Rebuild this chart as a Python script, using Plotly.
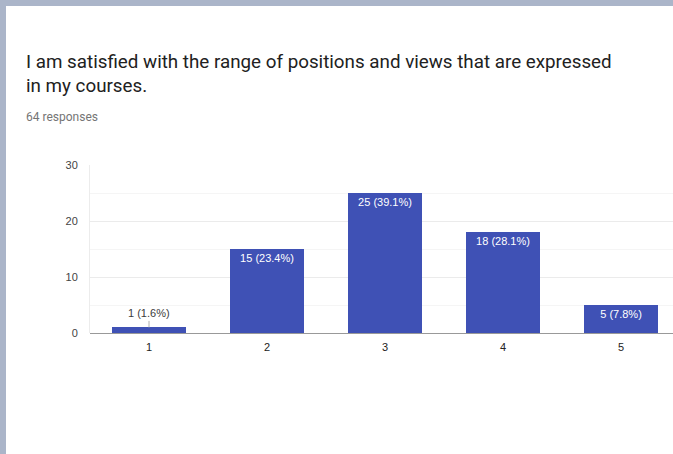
import plotly.graph_objects as go

categories = ["1", "2", "3", "4", "5"]
counts = [1, 15, 25, 18, 5]
percents = [1.6, 23.4, 39.1, 28.1, 7.8]
y_ticks = [0, 10, 20, 30]

W, H = 673, 454
ML, MR, MT, MB = 90, 0, 165, 121
pw, ph = W - ML - MR, H - MT - MB

bar_color = "#3f51b5"
border = "#abb5c9"
labels = [f"{c} ({p}%)" for c, p in zip(counts, percents)]
x_pos = [int(c) for c in categories]
small = [c < 3 for c in counts]

fig = go.Figure()
fig.add_trace(go.Bar(
    x=x_pos, y=counts,
    marker=dict(color=bar_color, line=dict(width=0)),
    width=0.62,
    text=[("" if s else l) for s, l in zip(small, labels)],
    textposition=["none" if s else "inside" for s in small],
    insidetextanchor="end",
    textangle=0,
    textfont=dict(family="Arial, Liberation Sans", size=11, color="white"),
    hoverinfo="skip",
))

for xv, yv, s, l in zip(x_pos, counts, small, labels):
    if s:
        fig.add_annotation(x=xv, y=yv, xref="x", yref="y", text=l,
                           showarrow=True, arrowhead=0, arrowwidth=1,
                           arrowcolor="#b0b0b0", ax=0, ay=-14,
                           font=dict(family="Arial, Liberation Sans", size=11, color="#3c3c3c"))

fig.add_annotation(xref="paper", yref="paper",
                   x=(24 - ML) / pw, y=1 + (MT - 49) / ph,
                   xanchor="left", yanchor="top", align="left", showarrow=False,
                   text="I am satisfied with the range of positions and views that are expressed<br>in my courses.",
                   font=dict(family="Roboto", size=18.8, color="#212121"))
fig.add_annotation(xref="paper", yref="paper",
                   x=(24 - ML) / pw, y=1 + (MT - 117) / ph,
                   xanchor="left", yanchor="middle", showarrow=False,
                   text="64 responses",
                   font=dict(family="Roboto", size=12, color="#757575"))

# page border strips (left and top)
fig.add_shape(type="rect", xref="paper", yref="paper", layer="above",
              x0=-ML / pw, x1=(6 - ML) / pw, y0=-MB / ph, y1=1 + MT / ph,
              fillcolor=border, line=dict(width=0))
fig.add_shape(type="rect", xref="paper", yref="paper", layer="above",
              x0=-ML / pw, x1=1, y0=1 + (MT - 6) / ph, y1=1 + MT / ph,
              fillcolor=border, line=dict(width=0))

fig.update_layout(
    width=W, height=H,
    margin=dict(l=ML, r=MR, t=MT, b=MB, pad=0),
    paper_bgcolor="white", plot_bgcolor="white",
    showlegend=False,
    bargap=0,
    xaxis=dict(range=[0.5, 0.5 + pw / 118], tickmode="array", tickvals=x_pos,
               ticktext=categories, showgrid=False, zeroline=False,
               showline=False, ticks="", fixedrange=True, ticklabelstandoff=6,
               tickfont=dict(family="Arial, Liberation Sans", size=11, color="#222222")),
    yaxis=dict(range=[0, 30], tickmode="array", tickvals=y_ticks,
               showgrid=True, gridcolor="#ebebeb", gridwidth=1,
               zeroline=True, zerolinecolor="#999999", zerolinewidth=1,
               showline=True, linecolor="#ececec", linewidth=1,
               ticks="", ticklabelstandoff=9,
               minor=dict(tickvals=[5, 15, 25], showgrid=True, gridcolor="#f5f5f5", ticks=""),
               tickfont=dict(family="Arial, Liberation Sans", size=11, color="#444444")),
)

fig.write_html("out.html", config={"displayModeBar": False},
               post_script="document.body.style.margin='0';document.body.style.overflow='hidden';")
